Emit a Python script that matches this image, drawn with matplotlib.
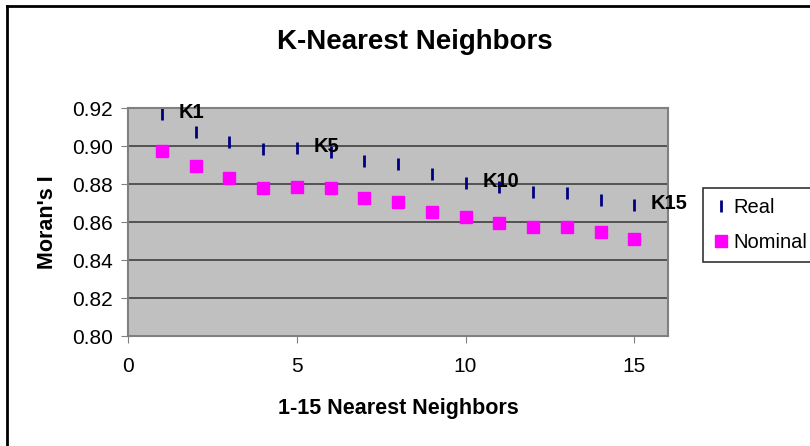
import matplotlib.pyplot as plt
from matplotlib.lines import Line2D

plt.rcParams['font.family'] = ['Liberation Sans', 'DejaVu Sans']

neighbors = list(range(1, 16))
real = [0.9168, 0.9072, 0.9019, 0.8984, 0.8991, 0.8970, 0.8921, 0.8905,
        0.8853, 0.8805, 0.8784, 0.8758, 0.8753, 0.8716, 0.8690]
nominal = [0.8974, 0.8895, 0.8830, 0.8780, 0.8786, 0.8780, 0.8725, 0.8707,
           0.8651, 0.8625, 0.8597, 0.8572, 0.8572, 0.8546, 0.8509]
point_labels = {1: 'K1', 5: 'K5', 10: 'K10', 15: 'K15'}

fig = plt.figure(figsize=(8.1, 4.46), dpi=100)
ax = fig.add_axes([128 / 810, 1 - 336 / 446, 540 / 810, 228 / 446])
ax.set_facecolor('#C0C0C0')

# gridlines
ax.set_axisbelow(True)
ax.grid(axis='y', color='#404040', linewidth=1.2)

# Real: navy dashes, Nominal: magenta squares
ax.plot(neighbors, real, linestyle='none', marker='|', markersize=8.5,
        markeredgewidth=2, color='#000080', label='Real')
ax.plot(neighbors, nominal, linestyle='none', marker='s', markersize=9,
        color='#FF00FF', label='Nominal')

for k, txt in point_labels.items():
    ax.annotate(txt, (k, real[k - 1]), xytext=(12, 1), textcoords='offset points',
                ha='left', va='center', fontsize=14.5, fontweight='bold')

ax.set_xlim(0, 16)
ax.set_ylim(0.80, 0.92)
ax.set_xticks([0, 5, 10, 15])
ax.set_yticks([0.80, 0.82, 0.84, 0.86, 0.88, 0.90, 0.92])
ax.set_yticklabels(['%.2f' % v for v in ax.get_yticks()])
ax.tick_params(labelsize=15, length=5, color='#808080', direction='out', pad=6)
ax.tick_params(axis='x', pad=10)
for s in ax.spines.values():
    s.set_color('#808080')
    s.set_linewidth(1.5)

ax.set_xlabel('1-15 Nearest Neighbors', fontsize=15.5, fontweight='bold', labelpad=16)
ax.set_ylabel("Moran's I", fontsize=15.5, fontweight='bold', labelpad=10)
fig.text(415 / 810, 1 - 42 / 446, 'K-Nearest Neighbors', ha='center', va='center',
         fontsize=20, fontweight='bold')

leg = fig.legend(loc='upper left', bbox_to_anchor=(703 / 810, 1 - 188 / 446),
                 fontsize=14.5, frameon=True, fancybox=False, handletextpad=0.2,
                 handlelength=0.8, borderpad=0.5, labelspacing=0.8,
                 borderaxespad=0)
leg.get_frame().set_edgecolor('black')
leg.get_frame().set_linewidth(1.2)

# chart border (top and left visible)
fig.add_artist(Line2D([7 / 810, 1], [1 - 6 / 446, 1 - 6 / 446], color='black', linewidth=2,
                      transform=fig.transFigure))
fig.add_artist(Line2D([7 / 810, 7 / 810], [0, 1 - 6 / 446], color='black', linewidth=2,
                      transform=fig.transFigure))

fig.savefig('out.png', dpi=100)
